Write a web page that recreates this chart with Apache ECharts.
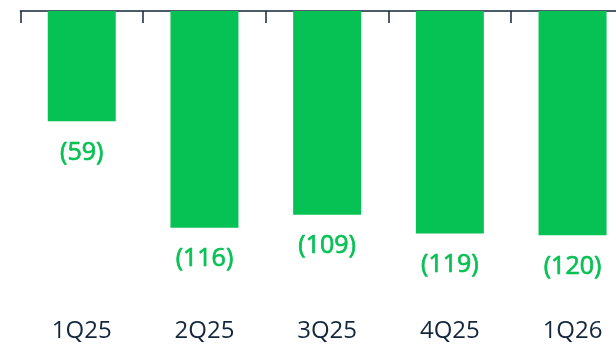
<!DOCTYPE html>
<html><head><meta charset="utf-8">
<script src="https://cdn.jsdelivr.net/npm/echarts@6/dist/echarts.min.js"></script>
<style>html,body{margin:0;padding:0;background:#fff}#c{width:616px;height:346px}</style>
</head><body><div id="c"></div>
<script>
const categories = ["1Q25", "2Q25", "3Q25", "4Q25", "1Q26"];
const values = [-59, -116, -109, -119, -120];

const green = "#06c153";
const navy = "#13263b";
const chart = echarts.init(document.getElementById("c"), null, {renderer: "canvas"});
chart.setOption({
  animation: false,
  grid: {left: 20.4, top: 11, width: 613.5, height: 299, outerBoundsMode: "none", containLabel: false},
  xAxis: [{
    type: "category", data: categories, position: "top",
    axisLine: {show: true, lineStyle: {color: navy, width: 1.5}},
    axisTick: {show: true, inside: true, length: 12, lineStyle: {color: navy, width: 1.5}},
    axisLabel: {show: false}
  }, {
    type: "category", data: categories, position: "bottom",
    axisLine: {show: false}, axisTick: {show: false},
    axisLabel: {color: navy, fontFamily: "Open Sans", fontSize: 24, margin: 9}
  }],
  yAxis: {type: "value", min: -160, max: 0, show: false, splitLine: {show: false}},
  series: [{
    type: "bar", data: values, barWidth: 68, xAxisIndex: 0,
    itemStyle: {color: green},
    label: {show: true, position: "bottom", distance: 19, color: green,
      fontFamily: "Open Sans", fontSize: 25, fontWeight: 400,
      textBorderColor: green, textBorderWidth: 0.7,
      formatter: p => "(" + Math.abs(p.value) + ")"}
  }]
});
</script></body></html>
